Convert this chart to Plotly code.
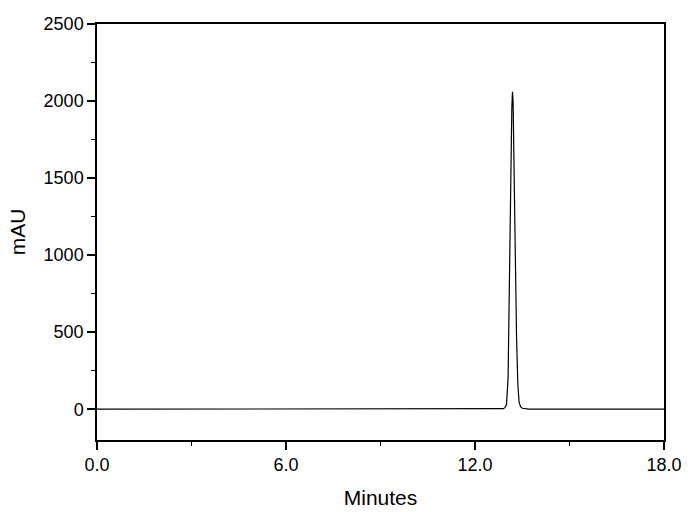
import plotly.graph_objects as go

# Chromatogram samples (minutes, mAU)
time_min = [0.0, 6.0, 12.0, 12.6, 12.80, 12.85, 12.90, 12.95, 13.00, 13.05, 13.10,
            13.14, 13.17, 13.19, 13.20, 13.21, 13.24, 13.28, 13.32, 13.36, 13.40,
            13.45, 13.50, 13.60, 13.70, 14.0, 18.0]
signal_mau = [0, 0, 0, 0, 0, 1, 3, 10, 30, 200, 790,
              1530, 1965, 2060, 2030, 1985, 1650, 1000, 460, 160, 45,
              15, 6, 1, 0, 0, 0]

x_ticks = [0, 6, 12, 18]
x_tick_labels = ["0.0", "6.0", "12.0", "18.0"]
y_ticks = [0, 500, 1000, 1500, 2000, 2500]

fig = go.Figure()
fig.add_trace(go.Scatter(x=time_min, y=signal_mau, mode="lines",
                         line=dict(color="black", width=1.2), showlegend=False))

font = "Liberation Sans, Arial, sans-serif"
fig.update_layout(
    width=690, height=512,
    margin=dict(l=97, r=26, t=24, b=72, autoexpand=False),
    paper_bgcolor="white", plot_bgcolor="white",
    font=dict(family=font, size=18, color="black"),
)
fig.update_xaxes(
    range=[0, 18], tickvals=x_ticks, ticktext=x_tick_labels,
    ticks="outside", ticklen=8, tickwidth=1.5, tickcolor="black",
    minor=dict(dtick=3, ticks="outside", ticklen=4, tickwidth=1.2, tickcolor="black", showgrid=False),
    showline=True, linecolor="black", linewidth=1.5, mirror=True,
    showgrid=False, zeroline=False, automargin=False,
    title=dict(text="Minutes", font=dict(size=21), standoff=16),
)
fig.update_yaxes(
    range=[-200, 2500], tickvals=y_ticks,
    ticks="outside", ticklen=8, tickwidth=1.5, tickcolor="black",
    minor=dict(dtick=250, ticks="outside", ticklen=4, tickwidth=1.2, tickcolor="black", showgrid=False),
    showline=True, linecolor="black", linewidth=1.5, mirror=True,
    showgrid=False, zeroline=False, automargin=False,
    title=dict(text="mAU", font=dict(size=21), standoff=12),
)

fig.write_html("out.html",
               config={"displayModeBar": False},
               post_script="document.body.style.margin='0';document.body.style.overflow='hidden';")
